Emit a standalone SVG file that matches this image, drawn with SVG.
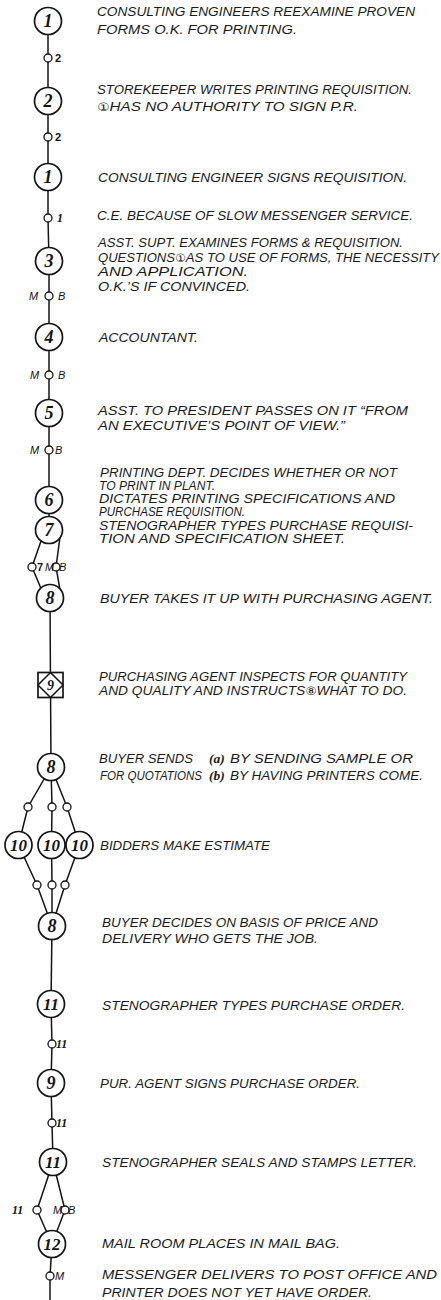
<svg xmlns="http://www.w3.org/2000/svg" width="441" height="1300" viewBox="0 0 441 1300">
<style>
.bg{fill:#ffffff}
.ln{fill:none;stroke:#141414;stroke-width:1.5}
.nd{fill:#ffffff;stroke:#141414;stroke-width:1.7}
.sm{fill:#ffffff;stroke:#141414;stroke-width:1.3}
.num{font-family:"Liberation Serif","DejaVu Serif",serif;font-style:italic;font-weight:bold;font-size:18px;fill:#141414;text-anchor:middle}
.num2{font-family:"Liberation Serif","DejaVu Serif",serif;font-style:italic;font-weight:bold;font-size:17px;fill:#141414;text-anchor:middle}
.lb{font-family:"Liberation Sans","DejaVu Sans",sans-serif;font-weight:bold;font-size:11px;fill:#141414}
.lbs{font-family:"Liberation Serif","DejaVu Serif",serif;font-style:italic;font-weight:bold;font-size:12px;fill:#141414}
.lbi{font-family:"Liberation Sans","DejaVu Sans",sans-serif;font-style:italic;font-size:11px;fill:#141414}
.tx{font-family:"Liberation Sans","DejaVu Sans",sans-serif;font-style:italic;font-size:12.5px;fill:#1a1a1a}
.cn{font-family:"DejaVu Sans",sans-serif;font-style:normal;font-size:11.5px}
.ab{font-family:"Liberation Serif","DejaVu Serif",serif;font-weight:bold;font-style:italic;font-size:13.5px;fill:#1a1a1a}
</style>
<rect class="bg" x="0" y="0" width="441" height="1300"/>

<g id="connectors">
<path class="ln" d="M48 21 L48 218 L49 261 L49 530"/>
<path class="ln" d="M41 541 L32 567 L42 591"/>
<path class="ln" d="M60 537 L56 567 L60 590"/>
<path class="ln" d="M50 598 L50.5 685 L51 767"/>
<path class="ln" d="M51 767 L28 807 L18.5 845 L37 885 L52 926"/>
<path class="ln" d="M51 767 L52 807 L51.5 845 L52 885 L52 926"/>
<path class="ln" d="M51 767 L67 807 L79.5 845 L65 885 L52 926"/>
<path class="ln" d="M52 926 L51 1004 L52 1044 L51 1083 L52 1123 L53 1162"/>
<path class="ln" d="M53 1162 L37 1210 L52 1244"/>
<path class="ln" d="M53 1162 L65 1210 L52 1244"/>
<path class="ln" d="M52 1244 L50 1276 L50 1300"/>
</g>

<g id="n1"><circle class="nd" cx="48" cy="21" r="13.5"/><text class="num" x="48" y="27">1</text></g>
<g id="s1"><circle class="sm" cx="48" cy="58" r="4"/><text class="lb" x="55" y="62">2</text></g>
<g id="n2"><circle class="nd" cx="48" cy="101" r="13.5"/><text class="num" x="48" y="107">2</text></g>
<g id="s2"><circle class="sm" cx="48" cy="137" r="4"/><text class="lb" x="55" y="141">2</text></g>
<g id="n3"><circle class="nd" cx="48" cy="177" r="13.5"/><text class="num" x="48" y="183">1</text></g>
<g id="s3"><circle class="sm" cx="48" cy="218" r="4"/><text class="lbs" x="57" y="222">1</text></g>
<g id="n4"><circle class="nd" cx="49" cy="261" r="13.5"/><text class="num" x="49" y="267">3</text></g>
<g id="s4"><circle class="sm" cx="49" cy="296" r="4"/><text class="lbi" x="29" y="300">M</text><text class="lbi" x="58" y="300">B</text></g>
<g id="n5"><circle class="nd" cx="49" cy="337" r="13.5"/><text class="num" x="49" y="343">4</text></g>
<g id="s5"><circle class="sm" cx="49" cy="375" r="4"/><text class="lbi" x="30" y="379">M</text><text class="lbi" x="58" y="379">B</text></g>
<g id="n6"><circle class="nd" cx="49" cy="413" r="13.5"/><text class="num" x="49" y="419">5</text></g>
<g id="s6"><circle class="sm" cx="49" cy="450" r="4"/><text class="lbi" x="30" y="454">M</text><text class="lbi" x="55" y="454">B</text></g>
<g id="n7"><circle class="nd" cx="49" cy="500" r="13.5"/><text class="num" x="49" y="506">6</text></g>
<g id="n8"><circle class="nd" cx="49" cy="530" r="13.5"/><text class="num" x="49" y="536">7</text></g>
<g id="s7a"><circle class="sm" cx="32" cy="567" r="4"/><text class="lb" x="37" y="571">7</text></g>
<g id="s7b"><circle class="sm" cx="56" cy="567" r="4"/><text class="lbi" x="45" y="571">M</text><text class="lbi" x="59" y="571">B</text></g>
<g id="n9"><circle class="nd" cx="50" cy="598" r="13.5"/><text class="num" x="50" y="604">8</text></g>
<g id="n10"><rect class="nd" x="38" y="672.5" width="25" height="25"/><polygon class="ln" points="50.5,672.5 63,685 50.5,697.5 38,685"/><text class="num" x="50.5" y="690" style="font-size:14px">9</text></g>
<g id="n11"><circle class="nd" cx="51" cy="767" r="13.5"/><text class="num" x="51" y="773">8</text></g>
<g id="s8a"><circle class="sm" cx="28" cy="807" r="4"/></g>
<g id="s8b"><circle class="sm" cx="52" cy="807" r="4"/></g>
<g id="s8c"><circle class="sm" cx="67" cy="807" r="4"/></g>
<g id="n12a"><circle class="nd" cx="18.5" cy="845" r="13.5"/><text class="num2" x="18.5" y="851">10</text></g>
<g id="n12b"><circle class="nd" cx="51.5" cy="845" r="13.5"/><text class="num2" x="51.5" y="851">10</text></g>
<g id="n12c"><circle class="nd" cx="79.5" cy="845" r="13.5"/><text class="num2" x="79.5" y="851">10</text></g>
<g id="s9a"><circle class="sm" cx="37" cy="885" r="4"/></g>
<g id="s9b"><circle class="sm" cx="52" cy="885" r="4"/></g>
<g id="s9c"><circle class="sm" cx="65" cy="885" r="4"/></g>
<g id="n13"><circle class="nd" cx="52" cy="926" r="13.5"/><text class="num" x="52" y="932">8</text></g>
<g id="n14"><circle class="nd" cx="51" cy="1004" r="13.5"/><text class="num2" x="51" y="1010">11</text></g>
<g id="s10"><circle class="sm" cx="52" cy="1044" r="4"/><text class="lbs" x="56" y="1048">11</text></g>
<g id="n15"><circle class="nd" cx="51" cy="1083" r="13.5"/><text class="num" x="51" y="1089">9</text></g>
<g id="s11"><circle class="sm" cx="52" cy="1123" r="4"/><text class="lbs" x="56" y="1127">11</text></g>
<g id="n16"><circle class="nd" cx="53" cy="1162" r="13.5"/><text class="num2" x="53" y="1168">11</text></g>
<g id="s12a"><circle class="sm" cx="37" cy="1210" r="4"/><text class="lbs" x="12" y="1214">11</text></g>
<g id="s12b"><circle class="sm" cx="65" cy="1210" r="4"/><text class="lbi" x="53" y="1214">M</text><text class="lbi" x="68" y="1214">B</text></g>
<g id="n17"><circle class="nd" cx="52" cy="1244" r="13.5"/><text class="num2" x="52" y="1250">12</text></g>
<g id="s13"><circle class="sm" cx="50" cy="1276" r="4"/><text class="lbi" x="55" y="1280">M</text></g>

<g id="descriptions">
<text class="tx" x="97" y="15.5" textLength="318" lengthAdjust="spacingAndGlyphs">CONSULTING ENGINEERS REEXAMINE PROVEN</text>
<text class="tx" x="97" y="33.5" textLength="200" lengthAdjust="spacingAndGlyphs">FORMS O.K. FOR PRINTING.</text>
<text class="tx" x="97" y="93.5" textLength="315" lengthAdjust="spacingAndGlyphs">STOREKEEPER WRITES PRINTING REQUISITION.</text>
<text class="tx" x="97" y="110.5" textLength="261" lengthAdjust="spacingAndGlyphs"><tspan class="cn">①</tspan>HAS NO AUTHORITY TO SIGN P.R.</text>
<text class="tx" x="98" y="181.5" textLength="309" lengthAdjust="spacingAndGlyphs">CONSULTING ENGINEER SIGNS REQUISITION.</text>
<text class="tx" x="97" y="219.5" textLength="316" lengthAdjust="spacingAndGlyphs">C.E. BECAUSE OF SLOW MESSENGER SERVICE.</text>
<text class="tx" x="98" y="246.5" textLength="305" lengthAdjust="spacingAndGlyphs">ASST. SUPT. EXAMINES FORMS &amp; REQUISITION.</text>
<text class="tx" x="98" y="261.5" textLength="341" lengthAdjust="spacingAndGlyphs">QUESTIONS<tspan class="cn">①</tspan>AS TO USE OF FORMS, THE NECESSITY</text>
<text class="tx" x="98" y="275.5" textLength="150" lengthAdjust="spacingAndGlyphs">AND APPLICATION.</text>
<text class="tx" x="98" y="290.5" textLength="152" lengthAdjust="spacingAndGlyphs">O.K.’S IF CONVINCED.</text>
<text class="tx" x="99" y="341.5" textLength="99" lengthAdjust="spacingAndGlyphs">ACCOUNTANT.</text>
<text class="tx" x="98" y="414.5" textLength="310" lengthAdjust="spacingAndGlyphs">ASST. TO PRESIDENT PASSES ON IT “FROM</text>
<text class="tx" x="98" y="429.5" textLength="247" lengthAdjust="spacingAndGlyphs">AN EXECUTIVE’S POINT OF VIEW.”</text>
<text class="tx" x="100" y="476.5" textLength="297" lengthAdjust="spacingAndGlyphs">PRINTING DEPT. DECIDES WHETHER OR NOT</text>
<text class="tx" x="99" y="489.5" textLength="116" lengthAdjust="spacingAndGlyphs">TO PRINT IN PLANT.</text>
<text class="tx" x="99" y="502.5" textLength="296" lengthAdjust="spacingAndGlyphs">DICTATES PRINTING SPECIFICATIONS AND</text>
<text class="tx" x="99" y="515.5" textLength="146" lengthAdjust="spacingAndGlyphs">PURCHASE REQUISITION.</text>
<text class="tx" x="99" y="529.5" textLength="314" lengthAdjust="spacingAndGlyphs">STENOGRAPHER TYPES PURCHASE REQUISI-</text>
<text class="tx" x="99" y="542.5" textLength="246" lengthAdjust="spacingAndGlyphs">TION AND SPECIFICATION SHEET.</text>
<text class="tx" x="100" y="602.5" textLength="333" lengthAdjust="spacingAndGlyphs">BUYER TAKES IT UP WITH PURCHASING AGENT.</text>
<text class="tx" x="99" y="681" textLength="308" lengthAdjust="spacingAndGlyphs">PURCHASING AGENT INSPECTS FOR QUANTITY</text>
<text class="tx" x="99" y="695" textLength="308" lengthAdjust="spacingAndGlyphs">AND QUALITY AND INSTRUCTS<tspan class="cn">⑧</tspan>WHAT TO DO.</text>
<text class="tx" x="99" y="762.5" textLength="94" lengthAdjust="spacingAndGlyphs">BUYER SENDS</text>
<text class="ab" x="209" y="763">(a)</text>
<text class="tx" x="230" y="762.5" textLength="183" lengthAdjust="spacingAndGlyphs">BY SENDING SAMPLE OR</text>
<text class="tx" x="100" y="779.5" textLength="102" lengthAdjust="spacingAndGlyphs">FOR QUOTATIONS</text>
<text class="ab" x="209" y="780">(b)</text>
<text class="tx" x="230" y="779.5" textLength="193" lengthAdjust="spacingAndGlyphs">BY HAVING PRINTERS COME.</text>
<text class="tx" x="100" y="849.5" textLength="170" lengthAdjust="spacingAndGlyphs">BIDDERS MAKE ESTIMATE</text>
<text class="tx" x="102" y="926.5" textLength="276" lengthAdjust="spacingAndGlyphs">BUYER DECIDES ON BASIS OF PRICE AND</text>
<text class="tx" x="102" y="942.5" textLength="216" lengthAdjust="spacingAndGlyphs">DELIVERY WHO GETS THE JOB.</text>
<text class="tx" x="102" y="1009.5" textLength="303" lengthAdjust="spacingAndGlyphs">STENOGRAPHER TYPES PURCHASE ORDER.</text>
<text class="tx" x="100" y="1087.5" textLength="260" lengthAdjust="spacingAndGlyphs">PUR. AGENT SIGNS PURCHASE ORDER.</text>
<text class="tx" x="102" y="1166.5" textLength="315" lengthAdjust="spacingAndGlyphs">STENOGRAPHER SEALS AND STAMPS LETTER.</text>
<text class="tx" x="102" y="1247.5" textLength="238" lengthAdjust="spacingAndGlyphs">MAIL ROOM PLACES IN MAIL BAG.</text>
<text class="tx" x="102" y="1278.5" textLength="335" lengthAdjust="spacingAndGlyphs">MESSENGER DELIVERS TO POST OFFICE AND</text>
<text class="tx" x="102" y="1296.5" textLength="270" lengthAdjust="spacingAndGlyphs">PRINTER DOES NOT YET HAVE ORDER.</text>
</g>
</svg>
